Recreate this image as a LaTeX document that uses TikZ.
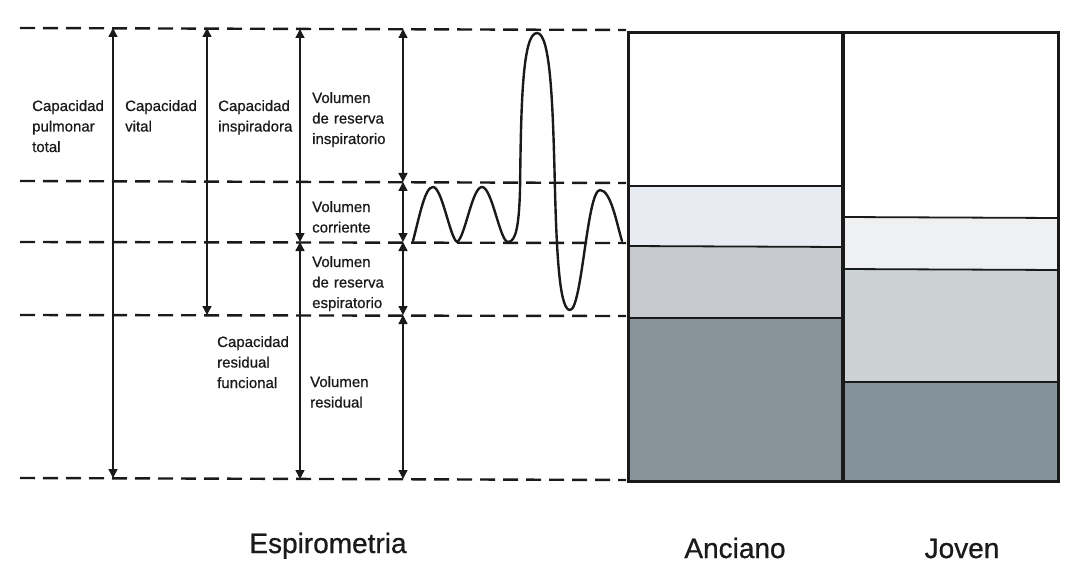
\documentclass[tikz,border=0pt]{standalone}
\usepackage{fontspec}
\setmainfont{Liberation Sans}
\newfontfamily\labfont[FakeBold=0.7]{Liberation Sans}
\usetikzlibrary{arrows.meta}
\definecolor{ancA}{HTML}{E8EBF2}
\definecolor{ancB}{HTML}{C6CACE}
\definecolor{ancC}{HTML}{88949A}
\definecolor{jovA}{HTML}{EEF0F2}
\definecolor{jovB}{HTML}{CBD2D4}
\definecolor{jovC}{HTML}{84939A}
\definecolor{ink}{HTML}{1A1A1A}
\tikzset{
  levelline/.style={draw=ink, line width=2.4pt, dash pattern=on 15pt off 8pt},
  dimarrow/.style={draw=ink, line width=1.4pt, {Triangle[length=9pt,width=9pt]}-{Triangle[length=9pt,width=9pt]}},
  smalllab/.style={anchor=base west, inner sep=0pt, text width=110pt, align=left, font=\labfont\fontsize{15}{20.5}\selectfont, text=ink},
  biglab/.style={anchor=base, inner sep=0pt, font=\labfont\fontsize{28}{32}\selectfont, text=ink},
  bandline/.style={draw=ink, line width=1.8pt},
  wave/.style={draw=ink, line width=2.4pt, line join=round, line cap=round}
}
\begin{document}
\begin{tikzpicture}[x=1pt, y=-1pt]
\useasboundingbox[fill=white] (0,0) rectangle (1065,564);

% level coordinates
\coordinate (L0w) at (20,28);  \coordinate (L0e) at (626,30);
\coordinate (L1w) at (20,181); \coordinate (L1e) at (626,183);
\coordinate (L2w) at (20,242); \coordinate (L2e) at (626,243);
\coordinate (L3w) at (20,315); \coordinate (L3e) at (626,316);
\coordinate (L4w) at (20,478); \coordinate (L4e) at (626,480);

% boxes: Anciano
\fill[white] (628,33) rectangle (843,187);
\fill[ancA] (628,187) rectangle (843,246);
\fill[ancB] (628,246) rectangle (843,318);
\fill[ancC] (628,318) rectangle (843,481);
% Joven
\fill[white] (843,33) rectangle (1058,217);
\fill[jovA] (843,217) rectangle (1058,269);
\fill[jovB] (843,269) rectangle (1058,382);
\fill[jovC] (843,382) rectangle (1058,481);

\coordinate (a1w) at (628,186); \coordinate (a1e) at (843,186);
\coordinate (a2w) at (628,246); \coordinate (a2e) at (843,247);
\coordinate (a3w) at (628,318); \coordinate (a3e) at (843,318);
\coordinate (j1w) at (843,217); \coordinate (j1e) at (1058,218);
\coordinate (j2w) at (843,269); \coordinate (j2e) at (1058,270);
\coordinate (j3w) at (843,382); \coordinate (j3e) at (1058,382);
\draw[bandline] (a1w) -- (a1e);
\draw[bandline] (a2w) -- (a2e);
\draw[bandline] (a3w) -- (a3e);
\draw[bandline] (j1w) -- (j1e);
\draw[bandline] (j2w) -- (j2e);
\draw[bandline] (j3w) -- (j3e);
\coordinate (divT) at (843,33); \coordinate (divB) at (843,481);
\draw[draw=ink, line width=3.6pt] (divT) -- (divB);
\coordinate (boxNW) at (628,33); \coordinate (boxSE) at (1058,481);
\draw[draw=ink, line width=3pt] (boxNW) rectangle (boxSE);

% dashed level lines
\draw[levelline] (L0w) -- (L0e);
\draw[levelline] (L1w) -- (L1e);
\draw[levelline] (L2w) -- (L2e);
\draw[levelline] (L3w) -- (L3e);
\draw[levelline] (L4w) -- (L4e);

% dimension arrows
\coordinate (c1t) at (113,28);  \coordinate (c1b) at (113,478);
\coordinate (c2t) at (207,28);  \coordinate (c2b) at (207,315);
\coordinate (c3t) at (300,29);  \coordinate (c3m) at (300,242); \coordinate (c3b) at (300,479);
\coordinate (c4t) at (403,29);  \coordinate (c4a) at (403,182); \coordinate (c4b) at (403,242);
\coordinate (c4c) at (403,315); \coordinate (c4d) at (403,479);
\draw[dimarrow] (c1t) -- (c1b);
\draw[dimarrow] (c2t) -- (c2b);
\draw[dimarrow] (c3t) -- (c3m);
\draw[dimarrow] (c3m) -- (c3b);
\draw[dimarrow] (c4t) -- (c4a);
\draw[dimarrow] (c4a) -- (c4b);
\draw[dimarrow] (c4b) -- (c4c);
\draw[dimarrow] (c4c) -- (c4d);

% labels
\node[smalllab] (cpt) at (32,111) {Capacidad\\pulmonar\\total};
\node[smalllab] (cv)  at (125,111) {Capacidad\\vital};
\node[smalllab] (ci)  at (218,111) {Capacidad\\inspiradora};
\node[smalllab] (vri) at (312,103) {Volumen\\de reserva\\inspiratorio};
\node[smalllab] (vc)  at (312,212) {Volumen\\corriente};
\node[smalllab] (vre) at (312,267) {Volumen\\de reserva\\espiratorio};
\node[smalllab] (crf) at (217,347) {Capacidad\\residual\\funcional};
\node[smalllab] (vr)  at (310,387) {Volumen\\residual};

% spirometry trace
\draw[wave] (413,241)
  .. controls (420,214) and (425,187) .. (433,187)
  .. controls (442,187) and (450,238) .. (457,242)
  .. controls (465,238) and (472,187) .. (482,187)
  .. controls (492,187) and (500,242) .. (508,242)
  .. controls (516,242) and (519,225) .. (520,190)
  .. controls (521,110) and (522,33) .. (537,33)
  .. controls (551,33) and (553,110) .. (555,190)
  .. controls (557,270) and (561,310) .. (570,310)
  .. controls (582,310) and (587,190) .. (600,190)
  .. controls (611,190) and (617,225) .. (622,241);

% bottom titles
\node[biglab] (esp) at (328,553) {Espirometria};
\node[biglab] (anc) at (735,558) {Anciano};
\node[biglab] (jov) at (962,558) {Joven};
\end{tikzpicture}
\end{document}
